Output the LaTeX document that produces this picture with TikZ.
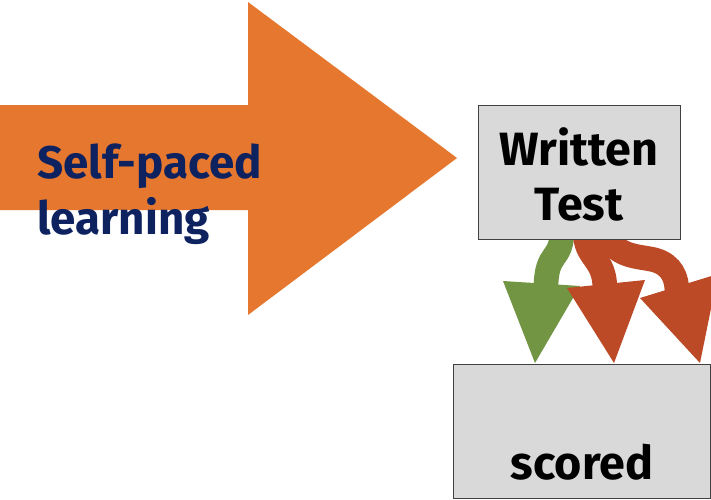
\documentclass[tikz,border=0pt]{standalone}
\usepackage{fontspec}
\setmainfont{Fira Sans}[UprightFont=* Bold]
\definecolor{bigorange}{HTML}{E5772E}
\definecolor{navytext}{HTML}{0E2260}
\definecolor{boxfill}{HTML}{D9D9D9}
\definecolor{boxline}{HTML}{404040}
\definecolor{passgreen}{HTML}{729543}
\definecolor{failred}{HTML}{BC4A27}
\begin{document}
\begin{tikzpicture}[x=0.75pt,y=-0.75pt,
  textbox/.style={draw=boxline,line width=0.9pt,fill=boxfill},
  bigtext/.style={font=\fontsize{35}{40}\selectfont,inner sep=0pt},
  arrowtext/.style={font=\fontsize{34.3}{40}\selectfont,inner sep=0pt,text=navytext},
  shaft/.style={line width=18.5pt}]
\useasboundingbox (0,0) rectangle (711,500);
% large arrow
\fill[bigorange] (0,105) -- (248,105) -- (248,2) -- (457,158) -- (248,315) -- (248,210) -- (0,210) -- cycle;
\node[arrowtext,anchor=base west] (selfpaced) at (37,178) {Self-paced};
\node[arrowtext,anchor=base west] (learning) at (37,234) {learning};
% curved arrows from the test box down to the result box
\begin{scope}
\clip (0,0) rectangle (711,500);
\draw[shaft,passgreen] (562,230) .. controls (562,262) and (546,250) .. (546,288);
\fill[passgreen] (503,281) -- (580,286) -- (535,363) -- cycle;
\draw[shaft,failred] (585,230) .. controls (585,260) and (605,256) .. (605,290);
\fill[failred] (567,288) -- (645,280) -- (614,363) -- cycle;
\draw[shaft,failred] (606,230) .. controls (612,258) and (640,256) .. (655,260) .. controls (672,265) and (677,278) .. (677,292);
\fill[failred] (640,298) -- (718,274) -- (700,363) -- cycle;
\end{scope}
% boxes
\node[textbox,minimum width=202*0.75pt,minimum height=134*0.75pt,anchor=north west] (test) at (478,105) {};
\node[bigtext,anchor=base] (written) at (579,165) {Written};
\node[bigtext,anchor=base] (testword) at (579,220) {Test};
\node[textbox,minimum width=257*0.75pt,minimum height=134*0.75pt,anchor=north west] (scored) at (453,364) {};
\node[bigtext,anchor=base] (scoredword) at (582,479) {scored};
\end{tikzpicture}
\end{document}
